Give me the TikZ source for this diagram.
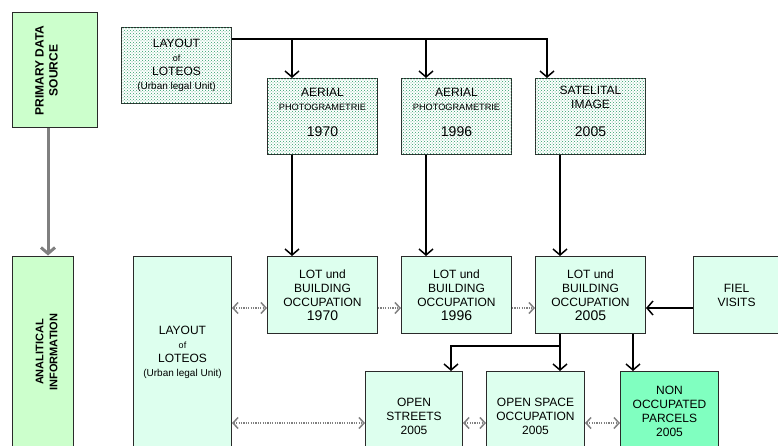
\documentclass[tikz,border=0pt]{standalone}
\usepackage{fontspec}
\setmainfont{Liberation Sans}
\usetikzlibrary{arrows.meta,patterns}
\definecolor{pale}{HTML}{CCFFCC}
\definecolor{mint}{HTML}{DDFFEE}
\definecolor{aqua}{HTML}{80FFC0}
\definecolor{dotgreen}{HTML}{2E9E6A}
\definecolor{boxline}{HTML}{2A2A2A}
\definecolor{greyline}{HTML}{808080}
\tikzset{
  box/.style={draw=boxline, line width=1pt, anchor=north west, align=center,
    inner sep=0pt, font=\fontsize{12}{14}\selectfont},
  photo/.style={box, fill=white, postaction={pattern=crosshatch dots, pattern color=dotgreen}},
  result/.style={box, fill=mint},
  side/.style={box, anchor=center, rotate=90, fill=pale},
  conn/.style={line width=1.5pt, -{Straight Barb[length=6pt,width=14pt]}},
  dotarr/.style={greyline, line width=1.2pt, dash pattern=on 1.2pt off 1.2pt,
    -{Straight Barb[length=5pt,width=11pt,line width=1.5pt]}},
  dotboth/.style={dotarr, {Straight Barb[length=5pt,width=11pt,line width=1.5pt]}-{Straight Barb[length=5pt,width=11pt,line width=1.5pt]}},
}
\newcommand{\yr}[1]{{\fontsize{14}{16}\selectfont #1}}
\newcommand{\nudge}[2]{\raisebox{#1}[\height][\depth]{#2}}
\begin{document}
\begin{tikzpicture}[x=1pt,y=-1pt]
  \useasboundingbox (0,0) rectangle (778,446);
  \clip (0,0) rectangle (778,446);

  % row headers
  \node[side, minimum width=115pt, minimum height=85pt, font=\bfseries\fontsize{12}{14}\selectfont]
    (prim) at (54.5,70.5) {\nudge{8pt}{PRIMARY DATA}\\\nudge{8pt}{SOURCE}};
  \node[side, minimum width=192pt, minimum height=61pt, font=\bfseries\fontsize{11}{14}\selectfont]
    (anal) at (42.5,352) {\nudge{-4pt}{ANALITICAL}\\\nudge{-4pt}{INFORMATION}};
  \coordinate (gx) at (48,0);
  \draw[greyline, line width=3pt, -{Straight Barb[length=6pt,width=14pt]}]
    (prim.west -| gx) -- (anal.east -| gx);

  % primary data sources
  \node[photo, minimum width=110pt, minimum height=76pt] (laytop) at (121,27)
    {LAYOUT\\{\fontsize{9}{11}\selectfont of}\\LOTEOS\\{\fontsize{10}{12}\selectfont (Urban legal Unit)}};
  \node[photo, minimum width=110pt, minimum height=76pt] (aer70) at (267,78)
    {AERIAL\\{\fontsize{9.2}{12}\selectfont PHOTOGRAMETRIE}\\[12pt]\yr{1970}\\[-6pt]\mbox{}};
  \node[photo, minimum width=110pt, minimum height=76pt] (aer96) at (401,78)
    {AERIAL\\{\fontsize{9.2}{12}\selectfont PHOTOGRAMETRIE}\\[12pt]\yr{1996}\\[-6pt]\mbox{}};
  \node[photo, minimum width=110pt, minimum height=76pt] (sat) at (535,78)
    {SATELITAL\\IMAGE\\[14pt]\yr{2005}\\[-4pt]\mbox{}};

  % analytical information
  \node[result, minimum width=98pt, minimum height=192pt] (laybot) at (133,256)
    {LAYOUT\\{\fontsize{9}{11}\selectfont of}\\LOTEOS\\{\fontsize{10}{12}\selectfont (Urban legal Unit)}};
  \node[result, minimum width=110pt, minimum height=77pt] (lot70) at (267,256)
    {LOT und\\BUILDING\\OCCUPATION\\\yr{1970}};
  \node[result, minimum width=110pt, minimum height=77pt] (lot96) at (401,256)
    {LOT und\\BUILDING\\OCCUPATION\\\yr{1996}};
  \node[result, minimum width=110pt, minimum height=77pt] (lot05) at (535,256)
    {LOT und\\BUILDING\\OCCUPATION\\\yr{2005}};
  \node[result, minimum width=86pt, minimum height=77pt] (fiel) at (693,256)
    {FIEL\\VISITS};
  \node[result, minimum width=97pt, minimum height=90pt] (streets) at (365,371)
    {OPEN\\STREETS\\2005};
  \node[result, minimum width=98pt, minimum height=90pt] (space) at (486,371)
    {OPEN SPACE\\OCCUPATION\\2005};
  \node[box, fill=aqua, minimum width=98pt, minimum height=90pt] (nonocc) at (620,371)
    {NON\\OCCUPATED\\PARCELS\\2005\\[-4pt]\mbox{}};

  % source connectors
  \coordinate (bus) at (0,39);
  \draw[conn] (laytop.east |- bus) -| ([xshift=12pt]sat.north west);
  \draw[conn] ([xshift=25pt]aer70.north west |- bus) -- ([xshift=25pt]aer70.north west);
  \draw[conn] ([xshift=25pt]aer96.north west |- bus) -- ([xshift=25pt]aer96.north west);
  \draw[conn] ([xshift=25pt]aer70.south west) -- ([xshift=25pt]lot70.north west);
  \draw[conn] ([xshift=25pt]aer96.south west) -- ([xshift=25pt]lot96.north west);
  \draw[conn] ([xshift=25pt]sat.south west) -- ([xshift=25pt]lot05.north west);

  % analysis connectors
  \coordinate (rowA) at (0,308);
  \coordinate (rowB) at (0,423);
  \draw[conn] (fiel.west |- rowA) -- (lot05.east |- rowA);
  \draw[conn] ([xshift=25pt]lot05.south west) -- ([xshift=25pt]lot05.south west |- space.north);
  \draw[conn] ([xshift=25pt]lot05.south west |- 0,346) -| ([xshift=-12pt]streets.north east);
  \draw[conn] ([xshift=-13pt]lot05.south east) -- ([xshift=-13pt]lot05.south east |- nonocc.north);

  \draw[dotboth] (laybot.east |- rowA) -- (lot70.west |- rowA);
  \draw[dotarr] (lot70.east |- rowA) -- (lot96.west |- rowA);
  \draw[dotarr] (lot96.east |- rowA) -- (lot05.west |- rowA);
  \draw[dotboth] (laybot.east |- rowB) -- (streets.west |- rowB);
  \draw[dotboth] (streets.east |- rowB) -- (space.west |- rowB);
  \draw[dotboth] (space.east |- rowB) -- (nonocc.west |- rowB);
\end{tikzpicture}
\end{document}
